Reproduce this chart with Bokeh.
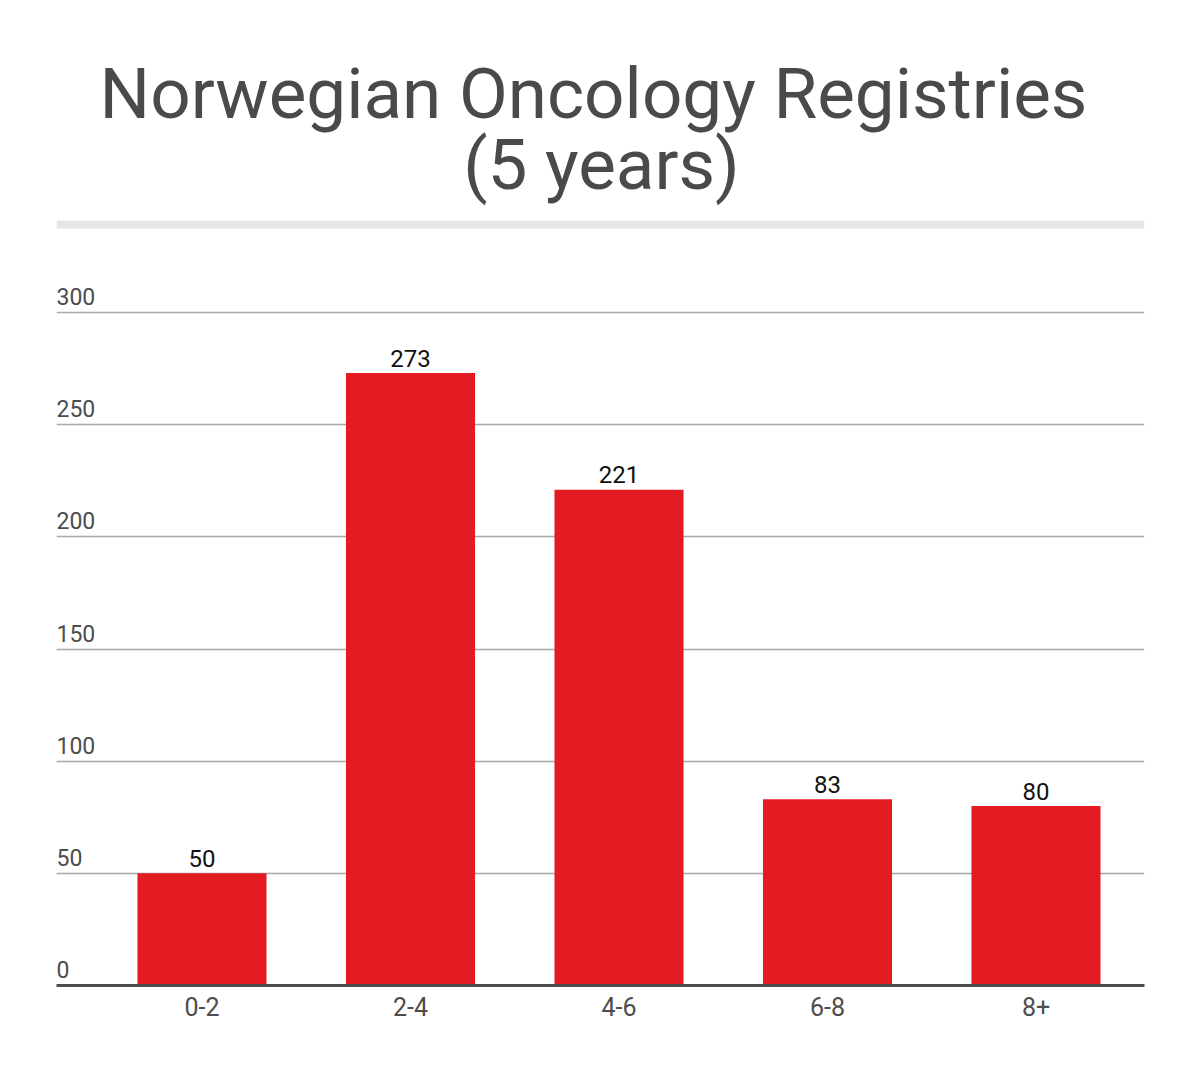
from bokeh.plotting import figure
from bokeh.models import Range1d, FixedTicker, ColumnDataSource
from bokeh.core.properties import value
from bokeh.embed import file_html
from bokeh.resources import INLINE

# ---- data ----
categories = ["0-2", "2-4", "4-6", "6-8", "8+"]
counts = [50, 273, 221, 83, 80]
y_ticks = [0, 50, 100, 150, 200, 250, 300]
title_lines = ["Norwegian Oncology Registries", "(5 years)"]

# ---- layout (pixels) ----
W, H = 1192, 1072
frame_left, frame_right = 56, 1144
frame_top, frame_bottom = 0, 985
px_per_unit = 673 / 300.0
slot = 208.5
first_center = 201.5

x_start = (frame_left - first_center) / slot
x_end = (frame_right - first_center) / slot
y_end = (frame_bottom - frame_top) / px_per_unit

def ydata(px):
    return (frame_bottom - px) / px_per_unit

def xdata(px):
    return (px - first_center) / slot

FONT = "Roboto"

p = figure(width=W, height=H, output_backend="svg", toolbar_location=None,
           x_range=Range1d(x_start, x_end), y_range=Range1d(0, y_end),
           min_border_left=frame_left, min_border_right=W - frame_right,
           min_border_top=frame_top, min_border_bottom=H - frame_bottom)
p.outline_line_color = None
p.background_fill_color = "white"
p.border_fill_color = "white"

xs = list(range(len(categories)))
src = ColumnDataSource(dict(x=xs, top=counts, cat=categories,
                            lab=[str(c) for c in counts]))

# bars
p.vbar(x="x", top="top", bottom=0, width=0.619, source=src,
       fill_color="#e31b23", line_color=None)

# value labels
p.text(x="x", y="top", text="lab", source=src, text_align="center",
       text_baseline="alphabetic", y_offset=-15, text_color="#111111",
       text_font=value(FONT), text_font_size="24px")

# y tick labels drawn above gridlines
ysrc = ColumnDataSource(dict(x=[x_start] * len(y_ticks), y=y_ticks,
                             t=[str(v) for v in y_ticks]))
p.text(x="x", y="y", text="t", source=ysrc, text_align="left",
       text_baseline="alphabetic", y_offset=-16, text_color="#4d4d4d",
       text_font=value(FONT), text_font_size="23px")

# grey separator band
p.quad(left=[x_start], right=[x_end], bottom=[ydata(228)], top=[ydata(220)],
       fill_color="#e6e6e6", line_color=None)

# title
p.text(x=[xdata(593), xdata(601)], y=[ydata(93), ydata(164)], text=title_lines,
       text_align="center", text_baseline="alphabetic", text_color="#4a4a4a",
       text_font=value(FONT), text_font_size="71px")

# axes
p.yaxis.visible = False
p.xaxis.ticker = FixedTicker(ticks=xs)
p.xaxis.major_label_overrides = {i: c for i, c in zip(xs, categories)}
p.xaxis.axis_line_color = "#4d4d4d"
p.xaxis.axis_line_width = 3
p.xaxis.major_tick_line_color = None
p.xaxis.minor_tick_line_color = None
p.xaxis.major_label_text_font = FONT
p.xaxis.major_label_text_font_size = "25px"
p.xaxis.major_label_text_color = "#4d4d4d"
p.xaxis.major_label_standoff = 5

# grid
p.xgrid.visible = False
p.ygrid.ticker = FixedTicker(ticks=y_ticks[1:])
p.ygrid.grid_line_color = "#a8a8a8"
p.ygrid.grid_line_width = 1.5

open("out.html", "w").write(file_html(p, INLINE))
